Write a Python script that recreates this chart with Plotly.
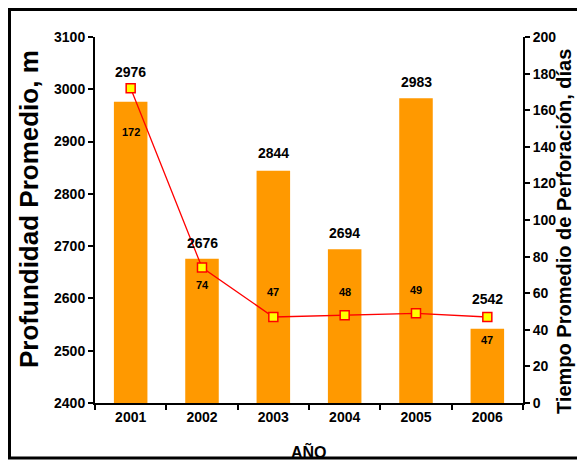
import plotly.graph_objects as go

# data
years = ["2001", "2002", "2003", "2004", "2005", "2006"]
depth_m = [2976, 2676, 2844, 2694, 2983, 2542]
drill_days = [172, 74, 47, 48, 49, 47]

# label offsets in px (the original nudges some labels away from the markers)
depth_label_shift = [30, 16, 18, 16, 16, 30]
days_label_shift = [-44, -17, 25, 23, 23, -23]

narrow = "Liberation Sans Narrow, Arial Narrow, sans-serif"
bold = "Liberation Sans, Arial, sans-serif"

# the page body adds an 8px margin, so the figure is 8px smaller and margins shifted
W, H = 577, 457
ML, MR, MT, MB = 87, 62, 29, 62
PW, PH = W - ML - MR, H - MT - MB


def px(x):  # window x -> paper x
    return (x - 8 - ML) / PW


def py(y):  # window y -> paper y
    return (H - MB - (y - 8)) / PH


fig = go.Figure()

fig.add_trace(go.Bar(
    x=years, y=depth_m,
    marker=dict(color="#FF9900", line=dict(width=0)),
    width=0.47,
))

fig.add_trace(go.Scatter(
    x=years, y=drill_days, yaxis="y2",
    mode="lines+markers",
    line=dict(color="#FF0000", width=1.3),
    marker=dict(symbol="square", size=9, color="#FFFF00", line=dict(color="#FF0000", width=1.5)),
    cliponaxis=False,
))

annotations = []
# category index positions, so the labels don't stretch the category axis
for i, (d, s) in enumerate(zip(depth_m, depth_label_shift)):
    annotations.append(dict(x=i, y=d, xref="x", yref="y", text=str(d), showarrow=False,
                            yshift=s, font=dict(family=narrow, size=14, color="black", weight="bold")))
for i, (d, s) in enumerate(zip(drill_days, days_label_shift)):
    annotations.append(dict(x=i, y=d, xref="x", yref="y2", text=str(d), showarrow=False,
                            yshift=s, font=dict(family=narrow, size=11, color="black", weight="bold")))

# axis titles (auto anchors: left title anchored on its left edge, right one on its right edge)
annotations.append(dict(x=px(12), y=py(209), xref="paper", yref="paper",
                        text="Profundidad Promedio, m", textangle=-90, showarrow=False,
                        font=dict(family=bold, size=26, color="black", weight="bold")))
annotations.append(dict(x=px(577), y=py(232), xref="paper", yref="paper",
                        text="Tiempo Promedio de Perforación, días", textangle=-90, showarrow=False,
                        font=dict(family=bold, size=20, color="black", weight="bold")))
annotations.append(dict(x=0.5, y=py(463), xref="paper", yref="paper",
                        text="AÑO", showarrow=False,
                        font=dict(family=bold, size=16, color="black", weight="bold")))

tickfont = dict(family=narrow, size=14, color="black", weight="bold")

fig.update_layout(
    width=W, height=H,
    margin=dict(l=ML, r=MR, t=MT, b=MB),
    paper_bgcolor="white", plot_bgcolor="white",
    showlegend=False,
    xaxis=dict(
        type="category", automargin=False, range=[-0.5, len(years) - 0.5],
        showline=True, linecolor="black", linewidth=2,
        ticks="outside", tickson="boundaries", ticklen=5, tickcolor="black", tickwidth=2,
        tickfont=tickfont,
    ),
    yaxis=dict(
        automargin=False,
        range=[2400, 3100], dtick=100,
        showline=True, linecolor="black", linewidth=2, showgrid=False, zeroline=False,
        ticks="outside", ticklen=5, tickcolor="black", tickwidth=2,
        tickfont=tickfont,
    ),
    yaxis2=dict(
        automargin=False,
        overlaying="y", side="right",
        range=[0, 200], dtick=20,
        showline=True, linecolor="black", linewidth=2, showgrid=False, zeroline=False,
        ticks="outside", ticklen=5, tickcolor="black", tickwidth=2,
        tickfont=tickfont,
    ),
    annotations=annotations,
    shapes=[dict(
        type="rect", xref="paper", yref="paper",
        x0=px(9.5), x1=px(580),
        y0=py(458), y1=py(9.5),
        line=dict(color="black", width=3),
    )],
)

fig.write_html("out.html")
